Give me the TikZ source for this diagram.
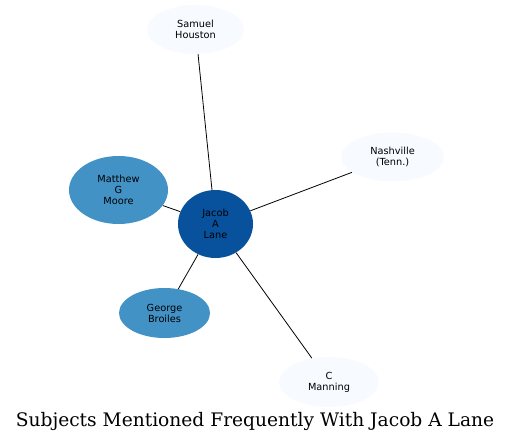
\documentclass[tikz,border=0pt]{standalone}
\usepackage{fontspec}
\setmainfont{DejaVu Serif}
\newfontfamily\nodefont{DejaVu Sans}
\usetikzlibrary{shapes.geometric}

\definecolor{hub}{HTML}{08519C}
\definecolor{mid}{HTML}{4292C6}
\definecolor{pale}{HTML}{F7FBFF}

\begin{document}
\begin{tikzpicture}[x=1bp, y=-1bp, semithick]
        \tikzstyle{subject}=[ellipse, inner sep=0pt, draw=none, text=black, align=center,
                font=\nodefont\fontsize{9.8}{11}\selectfont]
        \tikzstyle{link}=[draw=black, line width=0.8pt]

        \useasboundingbox (0,0) rectangle (513,443);

        \node[subject, fill=hub, minimum width=75bp, minimum height=68bp]   (J) at (215.5,224) {Jacob\\A\\Lane};
        \node[subject, fill=pale, minimum width=97bp, minimum height=49bp]  (S) at (195.5,29.5) {Samuel\\Houston};
        \node[subject, fill=pale, minimum width=103bp, minimum height=49bp] (N) at (392.5,157) {Nashville\\(Tenn.)};
        \node[subject, fill=mid, minimum width=99bp, minimum height=68bp]   (M) at (118.5,190) {Matthew\\G\\Moore};
        \node[subject, fill=mid, minimum width=91bp, minimum height=50bp]   (G) at (164.5,313) {George\\Broiles};
        \node[subject, fill=pale, minimum width=100bp, minimum height=50bp] (C) at (329,382) {C\\Manning};

        \node[font=\fontsize{18.7}{20}\selectfont] (T) at (255,421.5) {Subjects Mentioned Frequently With Jacob A Lane};

        \path (J) edge [link] (S)
              (J) edge [link] (N)
              (J) edge [link] (M)
              (J) edge [link] (G)
              (J) edge [link] (C);
\end{tikzpicture}
\end{document}
